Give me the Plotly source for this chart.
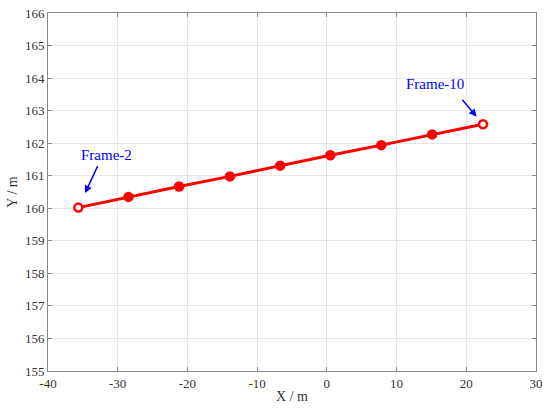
import plotly.graph_objects as go

# trajectory, frame 2 .. frame 10
frame_x = [-35.65, -28.45, -21.2, -13.9, -6.7, 0.5, 7.8, 15.1, 22.4]
frame_y = [160.02, 160.35, 160.67, 160.98, 161.31, 161.63, 161.94, 162.27, 162.58]

x_ticks = [-40, -30, -20, -10, 0, 10, 20, 30]
y_ticks = list(range(155, 167))

serif = "Liberation Serif, DejaVu Serif, serif"
red = "#ff0000"
blue = "#0000ff"

fig = go.Figure()

fig.add_trace(go.Scatter(
    x=frame_x,
    y=frame_y,
    mode="lines+markers",
    line=dict(color=red, width=3),
    marker=dict(
        color=["white"] + [red] * (len(frame_x) - 2) + ["white"],
        size=8,
        line=dict(color=red, width=2.5),
    ),
    showlegend=False,
))

axis_style = dict(
    showline=True,
    linecolor="#888888",
    linewidth=1,
    mirror="ticks",
    ticks="inside",
    ticklen=4,
    tickcolor="#888888",
    showgrid=True,
    gridcolor="#e6e6e6",
    gridwidth=1,
    zeroline=False,
    automargin=False,
    tickfont=dict(family=serif, size=13, color="#333333"),
    title_font=dict(family=serif, size=14, color="#333333"),
)

# plain hyphen minus signs, as in the original figure
fig.update_xaxes(range=[-40, 30], tickvals=x_ticks,
                 ticktext=[str(v) for v in x_ticks], title_text="X / m",
                 title_standoff=1, **axis_style)
fig.update_yaxes(range=[155, 166], tickvals=y_ticks,
                 ticktext=[str(v) for v in y_ticks], title_text="Y / m",
                 title_standoff=4, **axis_style)

# arrows pointing to the first and last frames
fig.add_annotation(x=frame_x[0], y=frame_y[0], ax=20, ay=-43, text="",
                   showarrow=True, arrowhead=2, arrowsize=1, arrowwidth=1.5,
                   arrowcolor=blue, standoff=16)
fig.add_annotation(x=frame_x[0], y=frame_y[0], text="Frame-2", showarrow=False,
                   xshift=28, yshift=53, font=dict(family=serif, size=15, color=blue))
fig.add_annotation(x=frame_x[-1], y=frame_y[-1], ax=-22, ay=-26, text="",
                   showarrow=True, arrowhead=2, arrowsize=1, arrowwidth=1.5,
                   arrowcolor=blue, standoff=10)
fig.add_annotation(x=frame_x[-1], y=frame_y[-1], text="Frame-10", showarrow=False,
                   xshift=-48, yshift=40, font=dict(family=serif, size=15, color=blue))

fig.update_layout(
    width=550,
    height=408,
    margin=dict(l=48, r=14, t=13, b=37),
    plot_bgcolor="white",
    paper_bgcolor="white",
)

# drop the browser's default body margin so the figure sits at the corner
fig.write_html("out.html", config={"displayModeBar": False},
               post_script="document.body.style.margin = '0';")
